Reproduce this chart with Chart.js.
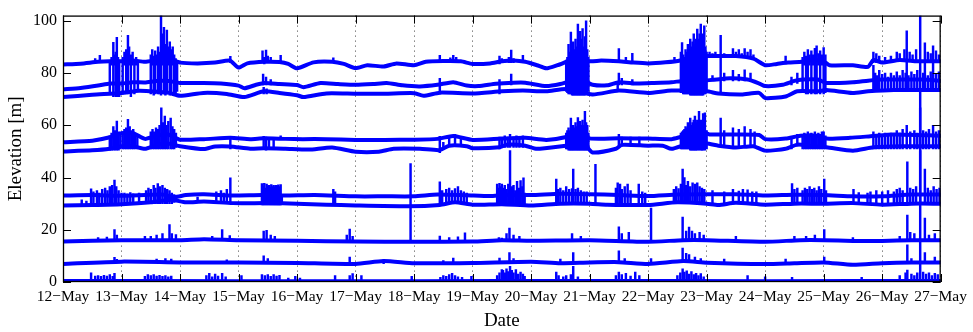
<!DOCTYPE html>
<html>
<head>
<meta charset="utf-8">
<script src="https://cdn.jsdelivr.net/npm/chart.js@4.4.1/dist/chart.umd.min.js"></script>
<style>
html,body{margin:0;padding:0;background:#fff;}
canvas{display:block;}
</style>
</head>
<body>
<canvas id="c" width="973" height="332"></canvas>
<script>
// Day tick labels (x = days since 12-May 00:00)
const dayLabels = ['12−May','13−May','14−May','15−May','16−May','17−May','18−May','19−May','20−May','21−May','22−May','23−May','24−May','25−May','26−May','27−May'];
const yTicks = [0, 20, 40, 60, 80, 100];

// Baseline series [day, elevation m]
const elevA = [[0,83.3],[0.3,83.6],[0.6,84.3],[0.8,84.5],[1.0,84.5],[1.2,84.8],[1.4,84.3],[1.6,85],[1.8,85.5],[2.0,84],[2.3,83.7],[2.6,84],[2.85,84.8],[3.0,82.1],[3.15,83.7],[3.45,84.3],[3.7,84.2],[3.85,83.5],[4.0,81.8],[4.28,84.1],[4.6,84.3],[4.8,83.5],[5.0,81.9],[5.2,83],[5.48,82.5],[5.7,83.7],[6.0,83],[6.2,84.3],[6.5,84.6],[6.8,84.5],[7.0,83.5],[7.3,83.7],[7.5,84.5],[7.7,84.8],[7.9,84.3],[8.1,83],[8.26,81.8],[8.45,83],[8.6,84.3],[8.8,86],[9.0,84.5],[9.2,84.8],[9.5,84.5],[9.75,84],[10.0,83.7],[10.3,84.1],[10.55,84.8],[10.8,86.5],[11.0,86.5],[11.2,86.5],[11.5,86.5],[11.8,85.5],[12.0,83],[12.2,83.5],[12.4,84],[12.63,84.3],[12.8,85],[13.0,84.5],[13.1,83],[13.5,83],[13.76,82.4],[13.85,85],[14.0,84],[14.3,85],[14.6,84.5],[15,84.5]];
const elevB = [[0,73.8],[0.3,74.3],[0.6,75.2],[0.8,76],[1.0,76],[1.2,76.5],[1.4,76.4],[1.6,77],[1.8,77],[2.0,76.2],[2.4,76.2],[2.7,76],[3.0,75.2],[3.1,74.2],[3.3,75.5],[3.45,76.2],[3.7,75.8],[4.0,75.4],[4.11,74.6],[4.4,76.2],[4.7,75.8],[5.0,75.5],[5.3,75.8],[5.53,76.2],[5.8,75.3],[6.1,74.9],[6.4,75.5],[6.67,76.5],[6.9,75.2],[7.1,75],[7.4,75.9],[7.7,76.3],[7.9,76.3],[8.26,75],[8.5,75.8],[8.7,77],[8.9,77],[9.05,75.5],[9.3,75.3],[9.5,76.5],[9.8,76],[10.1,76.2],[10.4,76.5],[10.6,77],[10.9,77],[11.1,77.4],[11.4,78],[11.7,77.5],[11.9,76],[12.0,75],[12.3,75.5],[12.5,77],[12.65,77.5],[12.9,77.5],[13.05,76.2],[13.5,76.5],[13.76,77.1],[14.0,77.5],[14.4,77.5],[14.7,77.5],[15,77]];
const elevC = [[0,70.8],[0.5,71.7],[1.0,72.4],[1.3,73.2],[1.5,73],[1.8,72.5],[2.0,71.3],[2.4,72.4],[2.8,72],[3.1,70.8],[3.43,73],[3.7,72.4],[4.0,71.5],[4.11,70.8],[4.5,72.2],[5.0,72.1],[5.5,72.1],[6.0,72.3],[6.16,71.3],[6.44,72.5],[7.0,72.2],[7.5,73],[7.86,73.3],[8.26,73],[8.6,73.9],[9.05,71.8],[9.5,73.3],[10.0,72.4],[10.4,73.3],[11.0,73],[11.2,72.2],[11.6,71.8],[11.9,72.4],[12.0,70.4],[12.35,71],[12.55,73],[12.9,73],[13.05,73.5],[13.49,72.4],[13.76,73],[14.2,73.5],[15,73.5]];
const elevD = [[0,53.5],[0.5,54.1],[0.8,55.4],[1.0,57],[1.2,57],[1.4,54.8],[1.6,56],[1.8,56.5],[2.0,54.5],[2.41,54.7],[2.86,55.2],[3.2,54.7],[3.43,55],[3.8,54.8],[4.1,54.7],[4.5,54.7],[5.0,54.4],[5.5,54.4],[6.0,54.5],[6.4,54.8],[6.67,55.9],[7.0,54.4],[7.5,54.9],[7.9,55.2],[8.26,54.4],[8.6,55.5],[8.8,57.5],[9.0,55],[9.5,55],[10.0,54.9],[10.4,54.7],[10.55,55.5],[10.9,57.5],[11.05,56.5],[11.5,56.5],[11.9,56.3],[12.0,54.7],[12.35,54.9],[12.6,56],[12.9,56],[13.05,54.9],[13.45,55.2],[13.8,55.8],[14.2,56.5],[15,56]];
const elevE = [[0,50],[0.5,50.4],[0.8,51],[1.0,52],[1.2,52],[1.4,51],[1.6,52.5],[1.8,53],[2.0,52],[2.41,50.9],[2.6,51.9],[2.86,51.9],[3.2,51],[3.43,51.2],[3.8,51],[4.2,50.7],[4.6,51.5],[5.0,49.9],[5.4,49.9],[5.65,51],[6.1,51],[6.44,50.5],[6.6,52.2],[6.9,52],[7.0,51.2],[7.46,51.6],[7.6,52.6],[7.9,52.2],[8.1,51],[8.6,52.2],[8.9,53],[9.05,49.6],[9.45,51],[9.55,52.5],[10.0,52.2],[10.25,52.2],[10.4,51],[10.7,53],[11.0,53],[11.2,52.2],[11.5,51.5],[11.8,52],[12.0,50.3],[12.35,51],[12.55,52.6],[12.8,52],[13.05,51.6],[13.5,50.3],[13.85,51.6],[14.3,52],[15,52]];
const elevF = [[0,33.1],[0.5,33.3],[1.0,33],[1.4,33.3],[1.7,33.5],[1.9,32.5],[2.1,33.3],[2.41,33.6],[2.9,33.1],[3.4,33.3],[3.8,33.1],[4.3,33.3],[5.0,32.8],[5.5,32.8],[6.0,32.8],[6.4,33.5],[6.9,33.2],[7.3,32.9],[7.55,33.3],[8.0,33.3],[8.5,33.8],[9.0,33.6],[9.5,33.3],[10.0,32.9],[10.5,33.5],[11.0,33.6],[11.5,33.6],[12.0,33.1],[12.5,33.4],[13.0,33.3],[13.5,32.8],[14.0,32.8],[14.5,33.5],[15,33.5]];
const elevG = [[0,29.3],[0.5,29.5],[1.0,29.8],[1.5,30.5],[1.85,31.5],[2.1,30.5],[2.41,30.8],[2.9,30.2],[3.5,30.2],[4.0,30],[4.5,29.6],[5.0,29.3],[5.9,29],[6.44,29.5],[6.7,30.5],[7.0,29.6],[7.5,29.8],[8.0,29.3],[8.5,30],[9.0,30],[9.3,29.6],[10.0,29.5],[10.5,30.5],[11.0,30],[11.2,29.5],[11.5,30.3],[12.0,29.6],[12.5,30],[13.0,30],[13.5,30.2],[14.0,29.6],[14.5,30],[15,30]];
const elevH = [[0,15.5],[1.0,16],[2.0,16],[2.41,16.4],[3.0,16],[4.0,15.8],[5.0,15.5],[6.0,15.4],[7.0,15.5],[7.5,16],[8.0,15.8],[9.0,16],[10.0,15.4],[10.6,16],[11.0,16],[12.0,15.4],[12.6,16],[13.0,16],[13.5,15.7],[14.0,15.7],[14.5,16],[15,16]];
const elevI = [[0,6.9],[1.0,7.8],[2.0,7.5],[3.0,7.5],[4.0,7.3],[5.0,6.9],[5.48,8],[6.0,7.2],[7.0,7.3],[8.0,7.8],[8.5,7.2],[9.0,7.5],[9.5,7.6],[10.0,6.9],[10.6,8],[11.0,7.4],[12.0,6.9],[12.5,7.2],[13.0,7.5],[13.5,6.6],[14.0,7.2],[14.5,7.5],[15,7.5]];
const elevJ = [[0,0.4],[3,0.3],[6,0.3],[9,0.4],[12,0.3],[15,0.4]];

// Spikes / bursts [day, low, high]
const spikesUpper = [
[0.55,84,85.5],[0.63,84,86.8],
[0.80,72,84.5],[0.83,83,86],[0.86,71,91.8],[0.88,83,87],[0.90,71,88],[0.92,71,93.7],[0.94,83,86],[0.96,71,85],
[1.02,72,86],[1.05,83,88],[1.08,72,89],[1.11,72,94.4],[1.13,83,90],[1.16,71,87],[1.19,83,88],[1.22,72,85],[1.25,83,86],[1.28,73,85],
[1.50,72,87],[1.525,83,89],[1.55,71.5,86.5],[1.575,72,88.5],[1.60,83,87],[1.625,72,90],[1.65,72,88],[1.675,71.5,102],[1.70,83,95],[1.725,72,97.5],[1.75,71.5,91],[1.775,72,96.5],[1.80,83,90],[1.825,71.5,92],[1.85,72,89],[1.875,83,90],[1.90,72,87],[1.925,72.5,85.5],[1.95,73,84.5],
[2.86,84,86.4],[3.41,84,88.5],[3.44,83.5,86],[3.47,84,88.8],[3.50,84,86.5],[3.55,84,86],[3.72,84,86.8],
[3.42,75.5,79.6],[3.47,75.5,78.5],[3.55,75.5,77.5],[3.43,72,74.5],[3.48,72,74],[4.62,84,85.8],
[6.44,84.3,86.8],[6.44,72,78],[6.62,84.5,85.8],[6.67,84.5,86.8],[6.72,84.5,86],[7.46,83.5,86.5],[7.46,72,77.5],[7.5,84,85.5],
[7.62,84,86],[7.66,84,88.8],[7.66,75.5,79.6],[7.7,84,85.5],[7.86,84,86.8],
[8.60,73,85],[8.62,72.5,86],[8.64,72,91],[8.66,72,88],[8.68,72,95.7],[8.70,71.5,90],[8.72,71.5,92],[8.74,71.5,89],[8.76,71.5,93],[8.78,71.5,90],[8.80,71.5,98.8],[8.82,71.5,91],[8.84,71.5,96],[8.86,71.5,93],[8.88,71.5,97],[8.90,71.5,90],[8.92,71.5,94],[8.94,72,100],[8.96,72,89],[8.98,73,86],
[9.48,73,76],[9.5,84.5,89.4],[9.5,75.5,80],[9.55,75.5,78],[9.62,84,86],[9.73,84,87.6],[9.73,75.5,77.5],
[10.45,84,86],
[10.56,72.5,88],[10.58,72.5,91.7],[10.60,72,87],[10.62,72,86],[10.64,72,89],[10.66,72,88],[10.68,72,91],[10.70,72,89],[10.72,71.5,93],[10.74,71.5,90],[10.76,71.5,92],[10.78,71.5,95],[10.80,71.5,91],[10.82,71.5,93],[10.84,71.5,96.8],[10.86,71.5,93],[10.88,71.5,95],[10.90,71.5,98.8],[10.92,71.5,92],[10.94,71.5,95],[10.96,72,98.1],[10.98,72,90],[11.00,72.5,88],
[11.05,86,88],[11.1,86,87.5],[11.15,86,88],[11.24,72,94.4],[11.3,86,87.5],[11.45,86,89.4],[11.5,86,88],[11.55,86,89],[11.6,86,87.5],[11.65,86,89.4],[11.7,86,88],[11.75,86,89],[11.8,85.5,87],
[11.1,77,79],[11.3,77,80],[11.45,77,81],[11.55,77,79.5],[11.65,77,81.2],[11.75,77,80],
[12.35,83.5,86.5],[12.45,75.5,78.5],[12.55,76,80],
[12.64,72.5,86],[12.67,83,88],[12.70,72,86.5],[12.73,72,89],[12.76,83,87],[12.79,72,88.5],[12.82,83,87],[12.85,72,89.5],[12.88,72,90.4],[12.91,83,87.5],[12.94,72,88.5],[12.97,83,87],[13.00,72,89.8],[13.03,72.5,87],
[13.85,84,88],[13.9,84,87.5],[13.95,84,86.5],[14.05,84,86],[14.15,84,86.5],[14.25,84.5,88],[14.3,84.5,87.5],[14.38,84.5,89],[14.42,84.5,96.2],[14.47,84.5,88],[14.52,84.5,87],[14.58,84.5,89],[14.73,84.5,91.6],[14.78,84.5,88],[14.83,84.5,87.5],[14.87,84.5,90.4],[14.92,84.5,88.5],[14.97,84.5,87],
[13.85,73,83],[13.88,73,80],[13.91,73,79],[13.95,73,81],[14.0,73,79.5],[14.05,73,80],[14.1,73,78.5],[14.15,73,80],[14.2,73,79],[14.25,73,80.5],[14.3,73,79],[14.35,73,81],[14.4,73,80],[14.42,73,84.5],[14.45,73,79],[14.5,73,80.5],[14.55,73,79.5],[14.6,73,81],[14.7,73,80],[14.73,73,84.5],[14.78,73,79],[14.83,73,80.5],[14.87,73,84.5],[14.92,73,79.5],[14.97,73,80.5]
];
const spikesMiddle = [
[0.80,50.5,56],[0.83,50.5,57],[0.86,50.5,59.5],[0.89,50.5,58],[0.92,50.5,61.6],[0.95,50.5,57.5],[0.98,51,57],[1.02,51,57.5],[1.05,51,58.5],[1.08,51,59],[1.11,51,62.3],[1.14,51,59.5],[1.17,51,58],[1.2,51,58.5],[1.23,51,57],[1.27,51,56.5],
[1.50,51,57.5],[1.53,51,58.5],[1.56,51,57.5],[1.59,51,59],[1.62,51,58.5],[1.65,51,60],[1.68,51,66.7],[1.71,51,61],[1.74,51,63.5],[1.77,51,60],[1.80,51,61.5],[1.84,51,62.8],[1.87,51,59.5],[1.90,51,58.5],[1.93,51.5,57],
[2.86,51,55.5],[3.43,51,55.8],[3.47,50.5,55.5],[3.52,51,55],[3.6,51,54.5],[3.72,54.5,56],
[6.44,49.5,55.8],[6.5,51.5,53.5],[6.6,52,56],[6.7,52,56.5],[6.8,52,55.5],[7.46,51,55.5],[7.5,51.5,54.8],
[7.55,51.5,56],[7.6,51.5,55.5],[7.64,51.5,56.5],[7.7,51.5,55.5],[7.75,51.5,56],[7.8,51.5,55.5],[7.86,51.5,56],
[8.60,51,57],[8.62,51,58],[8.64,50.5,59],[8.66,50.5,58],[8.68,50.5,62.8],[8.70,50.5,59],[8.72,50.5,60],[8.74,50.5,59],[8.76,50.5,61],[8.78,50.5,59.5],[8.80,50.5,63],[8.82,50.5,60],[8.84,50.5,61.5],[8.86,50.5,60],[8.88,50.5,62],[8.90,50.5,60],[8.92,50.5,65.3],[8.94,50.5,61],[8.96,50.5,60],[8.98,51,57],
[9.5,51.5,56.5],[9.55,52,55.5],[9.7,52,55.5],[9.85,52,55.5],
[10.56,51,57],[10.58,51,57.5],[10.60,51,58],[10.62,51,58.5],[10.64,51,59.5],[10.66,51,59],[10.68,51,61],[10.70,51,60],[10.72,50.5,62.8],[10.74,50.5,60],[10.76,50.5,61],[10.78,50.5,62],[10.80,50.5,63.5],[10.82,50.5,61],[10.84,50.5,62],[10.87,50.5,65.3],[10.90,50.5,62],[10.92,50.5,61],[10.94,50.5,64.5],[10.97,50.5,64.8],[11.0,51,58],
[11.24,52,62.8],[11.3,52,58],[11.45,52,59],[11.55,52,58.5],[11.65,52,59.5],[11.75,52,58.5],[11.82,52,57.5],[12.45,51,55],[12.55,52,56.5],
[12.64,51,56.5],[12.67,51,57],[12.70,51,56],[12.73,51,57.5],[12.76,51,56.5],[12.79,51,57],[12.82,51,56],[12.85,51,57.5],[12.88,51,56.5],[12.91,51,57],[12.94,51,56.5],[12.97,51,57.5],[13.00,51,57.5],[13.03,51,56],
[13.85,51,57.5],[13.9,51,56.5],[13.95,51,57],[14.0,51,56],[14.05,51,57],[14.1,51,56.5],[14.15,51,57],[14.2,51,56.5],[14.25,51,58],[14.3,51,57],[14.35,51,58.5],[14.42,51,60],[14.48,51,57.5],[14.55,51,58],[14.6,51,57],[14.65,51,66.7],[14.7,51,58],[14.75,51,57.5],[14.8,51,58.5],[14.87,51,60],[14.92,51,57.5],[14.97,51,58]
];
const spikes33 = [
[0.32,29.3,31.5],[0.4,29.3,31],[0.48,29.5,35.7],[0.52,29.5,34.5],[0.58,29.5,35],[0.62,29.5,34],[0.67,29.5,35.5],[0.72,29.5,36],[0.76,29.5,35],[0.8,29.5,36.5],[0.84,29.5,37],[0.88,29.5,39],[0.91,29.5,36.5],[0.95,29.5,35],[1.0,29.8,34],[1.05,30,34],[1.1,30,33.8],[1.15,30,34.2],[1.2,30,33.8],[1.3,30,34],
[1.42,30,35],[1.46,30,36],[1.5,30,35.5],[1.55,30,37],[1.58,30,36],[1.62,30,37.7],[1.66,30,36.5],[1.7,30,37],[1.74,30,36],[1.78,30,35.5],[1.82,30,35],[1.86,30,34],[1.9,30.5,33.5],[2.3,30.5,32.5],
[2.62,30.5,34.5],[2.7,30.5,35],[2.75,30.5,34],[2.8,30.5,35.5],[2.86,30.5,39.9],
[3.40,29.5,37.7],[3.42,29.5,36.5],[3.44,29.5,37.8],[3.46,29.5,36],[3.48,29.5,37.5],[3.50,29.5,36.8],[3.52,29.5,37],[3.54,29.5,36.2],[3.56,29.5,37.3],[3.58,29.5,36.5],[3.60,29.5,37],[3.62,29.5,36.4],[3.64,29.5,37],[3.66,29.5,36.8],[3.68,29.5,37.2],[3.70,29.5,36.5],[3.72,29.5,37.3],[3.74,30,33.5],
[4.62,30,35.5],[4.65,30,34.5],
[6.44,29.5,38.4],[6.48,29.5,35],[6.55,30,35.5],[6.6,30,36],[6.65,30,35],[6.7,30,35.8],[6.75,30,36.5],[6.8,30,35],[6.85,30,34.5],[6.9,30,34],
[7.42,29.8,37.5],[7.44,29.8,36],[7.46,29.8,37.8],[7.48,29.8,36.5],[7.50,29.8,37.5],
[7.52,29.8,36],[7.55,29.8,37],[7.58,29.8,35.5],[7.61,29.8,37.5],[7.64,29.8,50.3],[7.67,29.8,36.5],[7.70,29.8,37],[7.73,29.8,35],[7.76,29.8,38.5],[7.79,29.8,36],[7.82,29.8,38.8],[7.85,29.8,36.5],[7.87,29.8,39.9],[7.89,29.8,34],
[8.43,29.8,39.4],[8.46,30,35.5],[8.5,30,36],[8.55,30,35],[8.6,30,36.5],[8.65,30,35.5],[8.7,30,35.8],[8.72,30,43.2],[8.76,30,35.5],[8.8,30,36],[8.85,30,35],[8.9,30,34.5],[8.95,30,34.5],
[9.1,29.6,45.1],
[9.45,30,36],[9.48,30,38],[9.52,30,37.5],[9.55,30,35.5],[9.6,30,36.5],[9.65,30,37.5],[9.7,30,35],[9.84,30,37.5],[9.9,30,34.5],[9.95,30,34],
[10.44,30,35.5],[10.48,30,36.5],[10.52,30,35.8],[10.56,30,37.5],[10.59,30,43.2],[10.62,30,40],[10.65,30,37],[10.68,30,38.5],[10.72,30,36.5],[10.76,30,38],[10.80,30,37.5],[10.84,30,38],[10.88,30,36.5],[10.92,30,36],[10.96,30,35.5],
[11.1,30,35],[11.3,30,34.5],[11.45,30,35.5],[11.55,30,34.8],[11.62,30,35.5],[11.7,30,35.3],[11.78,30,34.5],[11.85,30,34.5],[12.46,30,37.7],[12.5,30,35.5],[12.55,30,36],
[12.64,30,35],[12.68,30,36],[12.72,30,35.5],[12.76,30,36.5],[12.8,30,35.5],[12.84,30,36],[12.88,30,35],[12.92,30,36.5],[12.96,30,35.5],[13.01,30,39.4],[13.04,30,35],
[13.51,30,35.5],[13.6,30,34.2],[13.75,30,34],[13.8,30,34.5],
[13.9,30,35],[14.0,30,34.5],[14.1,30,35],[14.2,30,34.5],[14.25,30,35.5],[14.3,30,36],[14.35,30,35],[14.43,30,46],[14.48,30,36],[14.53,30,35.5],[14.58,30,36.5],[14.65,30,50.3],[14.73,30,43.2],[14.78,30,36],[14.83,30,35],[14.88,30,36.5],[14.93,30,35.5],[14.98,30,36]
];
const spikes16 = [
[0.6,15.8,17],[0.75,15.8,17.2],[0.88,15.8,20.1],[0.92,15.8,18],[1.4,15.8,17.5],[1.5,15.8,17.5],[1.6,15.8,18],[1.7,15.8,18.5],[1.82,15.8,22],[1.86,15.8,18.5],[1.93,15.8,18.2],
[2.55,16,17.5],[2.72,16,20.1],[2.85,16,17.8],[3.43,16,19.5],[3.48,16,19.8],[3.55,16,18],[3.62,16,17.5],[4.85,16,18],[4.9,16,20.3],[4.95,16,17.5],
[5.94,15.5,45.3],[6.44,15.5,17.6],[6.6,15.5,17],[6.75,15.5,17.3],[6.87,15.5,18.8],[7.45,15.5,17],[7.5,15.5,16.8],
[7.58,16,18.5],[7.63,16,20.6],[7.7,16,18],[7.8,16,17.5],[8.7,16,18.5],[8.85,16,17.5],[9.5,16,21.1],[9.55,16,18.5],[9.67,16,19],[10.05,15.5,28.3],
[10.59,16,24.9],[10.65,16,19.5],[10.7,16,21],[10.75,16,19.5],[10.8,16,18.5],[10.88,16,19],[10.95,16,18],[11.5,16,17.5],[12.5,16,17.5],
[12.7,16,17.5],[12.85,16,18],[13.01,16,20.1],[13.5,15.7,17],[14.3,15.7,17.5],[14.43,15.7,25.6],[14.48,15.7,19],[14.55,15.7,18.5],[14.73,15.7,24.5],[14.8,15.7,18],[14.9,15.7,18.5]
];
const spikes7 = [
[0.88,7.5,9.4],[0.92,7.5,8.7],[1.6,7.5,8.8],[1.75,7.5,9],[1.85,7.5,8.8],[2.8,7.5,8.5],[3.43,7.5,10],[3.5,7.5,9],[4.9,7.5,9.5],
[5.48,7,8.5],[6.5,7,8.2],[6.67,7,9.2],[7.46,7,9.2],[7.63,7.5,11.3],[7.7,7.5,9],[8.5,7.5,8.8],[8.72,7.5,11.3],[9.5,7.5,11.9],[9.6,7.5,9],[10.05,7,9],
[10.59,7.5,13],[10.65,7.5,11],[10.7,7.5,10.5],[10.8,7.5,9.5],[10.9,7.5,9],[11.3,7.5,8.8],[12.35,7.5,8.8],
[13.01,7.2,9.5],[14.43,7.5,14.2],[14.5,7.5,9],[14.73,7.5,11.3],[14.9,7.5,9.5]
];
const spikes0 = [
[0.48,0.3,3.5],[0.55,0.3,2.3],[0.6,0.3,2.5],[0.65,0.3,2.2],[0.7,0.3,2.6],[0.75,0.3,2.3],[0.8,0.3,2.8],[0.85,0.3,2.2],[0.88,0.3,3.3],
[1.4,0.3,2.2],[1.45,0.3,2.8],[1.5,0.3,2.5],[1.55,0.3,2.8],[1.6,0.3,2.3],[1.65,0.3,2.6],[1.7,0.3,2.2],[1.75,0.3,2.5],[1.8,0.3,2],[1.85,0.3,2.3],
[2.45,0.3,2.5],[2.5,0.3,3.3],[2.55,0.3,2],[2.6,0.3,3],[2.65,0.3,2.3],[2.72,0.3,3.3],[2.78,0.3,2],[3.05,0.3,2.5],[3.4,0.3,2.8],[3.45,0.3,2.5],[3.5,0.3,2.8],[3.55,0.3,2.2],[3.6,0.3,2.8],[3.65,0.3,2.3],[3.7,0.3,2.6],[3.85,0.3,1.5],[3.97,0.3,2.2],[4.05,0.3,1.5],[4.65,0.3,2.5],[4.9,0.3,2.5],[4.95,0.3,3.2],
[5.1,0.3,2.5],[5.96,0.3,2.2],[6.45,0.3,1.8],[6.5,0.3,2.5],[6.55,0.3,2.2],[6.6,0.3,2.8],[6.65,0.3,3.3],[6.7,0.3,2.5],[6.75,0.3,2],[6.82,0.3,1.8],[6.98,0.3,2.2],[7.42,0.3,2.5],[7.46,0.3,3.5],[7.5,0.3,4.8],
[7.52,0.3,4.5],[7.55,0.3,3.5],[7.58,0.3,5],[7.61,0.3,4],[7.64,0.3,6],[7.67,0.3,4.5],[7.7,0.3,3.5],[7.74,0.3,4.8],[7.78,0.3,3],[7.82,0.3,3.8],[7.86,0.3,3],[7.89,0.3,2.2],
[8.43,0.3,3.8],[8.47,0.3,2.5],[8.55,0.3,2],[8.6,0.3,2.5],[8.68,0.3,2.8],[8.72,0.3,6],[8.8,0.3,2],[9.45,0.3,2.5],[9.5,0.3,3.8],[9.55,0.3,2.8],[9.62,0.3,3.3],[9.7,0.3,2.3],[9.78,0.3,3.8],[9.85,0.3,2.5],
[10.5,0.3,2.5],[10.55,0.3,3.5],[10.59,0.3,5],[10.62,0.3,3.8],[10.66,0.3,4.3],[10.7,0.3,3],[10.74,0.3,4],[10.78,0.3,2.8],[10.82,0.3,3.3],[10.86,0.3,2.5],[10.9,0.3,3.2],[10.95,0.3,2],[11.7,0.3,2.5],[12.0,0.3,2],[12.46,0.3,1.8],
[13.65,0.3,1.8],[14.3,0.3,2.5],[14.4,0.3,3.5],[14.43,0.3,4.6],[14.5,0.3,3],[14.55,0.3,2.5],[14.6,0.3,3.5],[14.65,0,102],[14.7,0.3,3.8],[14.75,0.3,3],[14.8,0.3,3.5],[14.85,0.3,2.5],[14.9,0.3,3.3],[14.95,0.3,2.8]
];

const BLUE = '#0000ff';
const FONT = '"Liberation Serif", "Times New Roman", serif';
const toXY = arr => arr.map(p => ({x: p[0], y: p[1]}));
const toBar = arr => arr.map(p => ({x: p[0], y: [p[1], p[2]]}));

const lineSeries = [elevA, elevB, elevC, elevD, elevE, elevF, elevG, elevH, elevI, elevJ];
const spikeSeries = [spikesUpper, spikesMiddle, spikes33, spikes16, spikes7, spikes0];

const datasets = [];
lineSeries.forEach(s => datasets.push({
  type: 'line', data: toXY(s), borderColor: BLUE, borderWidth: 4,
  pointRadius: 0, tension: 0.2, fill: false, borderJoinStyle: 'round', borderCapStyle: 'round'
}));
spikeSeries.forEach(s => datasets.push({
  type: 'bar', data: toBar(s), backgroundColor: BLUE, borderWidth: 0,
  barThickness: 1.8, grouped: false
}));

const frame = {
  id: 'frame',
  afterDatasetsDraw(chart) {
    const {ctx, chartArea: a, scales: {x, y}} = chart;
    ctx.save();
    ctx.strokeStyle = '#000';
    ctx.lineWidth = 1;
    ctx.beginPath();
    for (let i = 0; i < dayLabels.length; i++) {
      const px = Math.round(x.getPixelForValue(i)) + 0.5;
      ctx.moveTo(px, a.bottom); ctx.lineTo(px, a.bottom - 8);
      ctx.moveTo(px, a.top); ctx.lineTo(px, a.top + 8);
    }
    yTicks.forEach(v => {
      const py = Math.round(y.getPixelForValue(v)) + 0.5;
      ctx.moveTo(a.left, py); ctx.lineTo(a.left + 8, py);
      ctx.moveTo(a.right, py); ctx.lineTo(a.right - 8, py);
    });
    ctx.stroke();
    ctx.lineWidth = 1.3;
    ctx.strokeRect(a.left + 0.5, a.top + 0.5, a.right - a.left - 1, a.bottom - a.top - 1);
    ctx.restore();
  }
};

new Chart(document.getElementById('c'), {
  type: 'line',
  data: { datasets },
  options: {
    responsive: false,
    animation: false,
    devicePixelRatio: 1,
    events: [],
    layout: { padding: { left: 0, right: 29, top: 12, bottom: 0 } },
    plugins: { legend: { display: false }, tooltip: { enabled: false } },
    scales: {
      x: {
        type: 'linear', min: 0, max: 15, offset: false,
        grid: { display: true, drawTicks: false, color: 'rgba(0,0,0,0.75)', lineWidth: 1, offset: false },
        border: { display: false, dash: [1, 4] },
        ticks: {
          stepSize: 1, autoSkip: false, maxRotation: 0, padding: 6, color: '#000',
          font: { family: FONT, size: 15.5 },
          callback: v => dayLabels[v]
        },
        title: { display: true, text: 'Date', color: '#000', padding: { top: 4, bottom: 0 },
          font: { family: FONT, size: 19 } },
        afterFit: s => { s.height = 50; }
      },
      y: {
        type: 'linear', min: 0, max: 102,
        grid: { display: false, drawTicks: false },
        border: { display: false },
        ticks: {
          stepSize: 20, includeBounds: false, padding: 6, color: '#000',
          font: { family: FONT, size: 16 }
        },
        title: { display: true, text: 'Elevation [m]', color: '#000', padding: { top: 5, bottom: 0 },
          font: { family: FONT, size: 19 } },
        afterFit: s => { s.width = 63; }
      }
    }
  },
  plugins: [frame]
});
</script>
</body>
</html>
